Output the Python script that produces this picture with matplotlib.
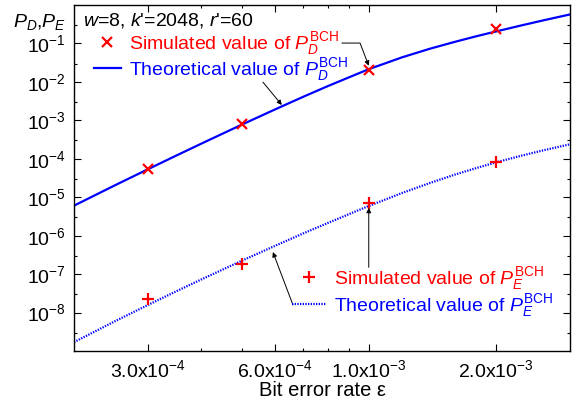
import matplotlib
matplotlib.use('Agg')
import matplotlib.pyplot as plt
from matplotlib import ticker
import numpy as np

plt.rcParams['font.family'] = 'Liberation Sans'
plt.rcParams['mathtext.fontset'] = 'custom'
plt.rcParams['mathtext.rm'] = 'Liberation Sans'
plt.rcParams['mathtext.it'] = 'Liberation Sans:italic'
plt.rcParams['mathtext.bf'] = 'Liberation Sans:bold'

# simulated points
ber_sim = [3e-4, 5e-4, 1e-3, 2e-3]
pd_sim = [5.5e-5, 7.9e-4, 2.1e-2, 0.244]
pe_sim = [2.3e-8, 1.8e-7, 7.0e-6, 8.3e-5]

# theoretical curves
ber_th = [2e-4, 2.5e-4, 3e-4, 3.5e-4, 4e-4, 5e-4, 6e-4, 7e-4, 8e-4, 9e-4, 1e-3,
          1.2e-3, 1.4e-3, 1.6e-3, 1.8e-3, 2e-3, 2.3e-3, 2.6e-3, 3e-3]
pd_th = [6.03e-6, 2.04e-5, 5.40e-5, 1.22e-4, 2.45e-4, 7.73e-4, 1.93e-3, 4.12e-3, 7.78e-3, 1.33e-2, 2.14e-2,
         4.36e-2, 7.35e-2, 0.110, 0.154, 0.204, 0.294, 0.401, 0.568]
pe_th = [1.70e-9, 5.93e-9, 1.59e-8, 3.60e-8, 7.19e-8, 2.23e-7, 5.47e-7, 1.15e-6, 2.14e-6, 3.67e-6, 5.92e-6,
         1.29e-5, 2.37e-5, 3.87e-5, 5.75e-5, 8.02e-5, 1.20e-4, 1.67e-4, 2.38e-4]

xticks = [3e-4, 6e-4, 1e-3, 2e-3]
xticklabels = [r'3.0x10$^{-4}$', r'6.0x10$^{-4}$', r'1.0x10$^{-3}$', r'2.0x10$^{-3}$']
xminor = [4e-4, 5e-4, 7e-4, 8e-4, 9e-4]

fig = plt.figure(figsize=(5.76, 4), dpi=100)
ax = fig.add_axes([0.1285, 0.1225, 0.861, 0.865])

l_pd, = ax.plot(ber_th, pd_th, color='#0000ff', lw=1.6)
l_pe, = ax.plot(ber_th, pe_th, color='#0000ff', lw=1.6, linestyle=(0, (0.6, 0.6)))
m_pd, = ax.plot(ber_sim, pd_sim, 'x', color='#ff0000', ms=7.5, mew=1.6, linestyle='none')
m_pe, = ax.plot(ber_sim, pe_sim, '+', color='#ff0000', ms=9, mew=1.6, linestyle='none')

ax.set_xscale('log')
ax.set_yscale('log')
ax.set_xlim(2e-4, 3e-3)
ax.set_ylim(1e-9, 1e0)

ax.set_xticks(xticks)
ax.set_xticklabels(xticklabels)
ax.set_xticks(xminor, minor=True)
ax.xaxis.set_minor_formatter(ticker.NullFormatter())
ax.set_yticks([10.0**k for k in range(-8, 0)])
ax.yaxis.set_major_formatter(ticker.FuncFormatter(lambda v, p: r'10$^{%d}$' % round(np.log10(v))))
ax.yaxis.set_minor_locator(ticker.LogLocator(base=10, subs=[3], numticks=20))
ax.yaxis.set_minor_formatter(ticker.NullFormatter())

ax.tick_params(which='both', direction='in', top=True, right=True, labelsize=14, width=0.8)
ax.tick_params(which='major', length=5, pad=6)
ax.tick_params(which='minor', length=2.5)
for s in ax.spines.values():
    s.set_linewidth(1.0)

ax.set_xlabel('Bit error rate ε', fontsize=14.5, labelpad=0)
fig.text(0.022, 0.945, r'$P_D$,$P_E$', fontsize=14, ha='left', va='center')

ax.text(0.018, 0.955, r"$w$=8, $k$'=2048, $r$'=60", transform=ax.transAxes,
        fontsize=14, ha='left', va='center')

leg1 = ax.legend([m_pd, l_pd],
                 [r'Simulated value of $P_D^{\mathrm{BCH}}$', r'Theoretical value of $P_D^{\mathrm{BCH}}$'],
                 loc='upper left', bbox_to_anchor=(0.04, 0.927), frameon=False, fontsize=14,
                 labelcolor=['#ff0000', '#0000ff'], handlelength=1.4, handletextpad=0.4,
                 labelspacing=-0.08, borderaxespad=0, borderpad=0)
ax.add_artist(leg1)
ax.legend([m_pe, l_pe],
          [r'Simulated value of $P_E^{\mathrm{BCH}}$', r'Theoretical value of $P_E^{\mathrm{BCH}}$'],
          loc='upper left', bbox_to_anchor=(0.44, 0.249), frameon=False, fontsize=14,
          labelcolor=['#ff0000', '#0000ff'], handlelength=1.75, handletextpad=0.4,
          labelspacing=0.0, borderaxespad=0, borderpad=0)

arw = dict(arrowstyle='-|>', color='black', lw=0.7, mutation_scale=7, shrinkA=0, shrinkB=0)
ax.annotate('', xy=(ber_sim[2], pd_sim[2] * 1.25), xytext=(0.54, 0.89), textcoords='axes fraction',
            arrowprops=dict(arw, connectionstyle='angle,angleA=0,angleB=111,rad=0'))
ax.annotate('', xy=(0.419, 0.711), xycoords='axes fraction', xytext=(0.381, 0.777),
            textcoords='axes fraction', arrowprops=arw)
ax.annotate('', xy=(ber_sim[2], 5.3e-6), xytext=(ber_sim[2], 1.5e-7), arrowprops=arw)
ax.annotate('', xy=(0.401, 0.286), xycoords='axes fraction', xytext=(0.4415, 0.133),
            textcoords='axes fraction', arrowprops=arw)

fig.savefig('out.png', dpi=100)
